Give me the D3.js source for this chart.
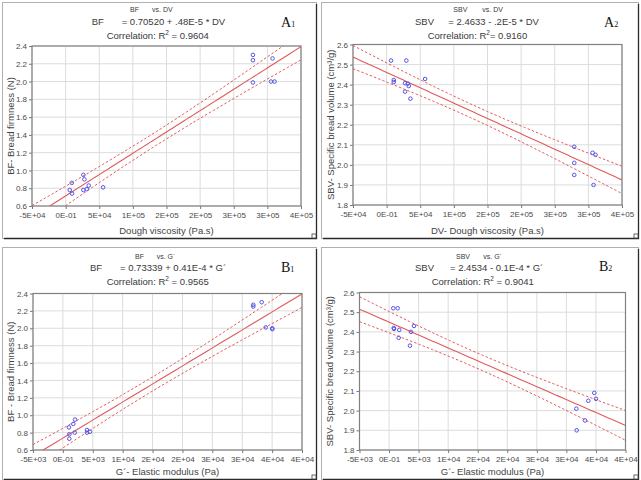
<!DOCTYPE html>
<html>
<head>
<meta charset="utf-8">
<script src="https://cdn.jsdelivr.net/npm/d3@7"></script>
<style>
body { margin: 0; background: #fff; }
svg { display: block; font-family: 'Liberation Sans', Arial, sans-serif; }
</style>
</head>
<body>
<script>
// data
var dv_ticks = [-50000, 0, 50000, 100000, 150000, 200000, 250000, 300000, 350000];
var dv_tick_labels = ['-5E+04', '0E-01', '5E+04', '1E+05', '2E+05', '2E+05', '3E+05', '3E+05', '4E+05'];
var g_ticks = [-5000, 0, 5000, 10000, 15000, 20000, 25000, 30000, 35000, 40000];
var g_tick_labels = ['-5E+03', '0E-01', '5E+03', '1E+04', '2E+04', '2E+04', '3E+04', '3E+04', '4E+04', '4E+04'];
var bf_ticks = [0.6, 0.8, 1.0, 1.2, 1.4, 1.6, 1.8, 2.0, 2.2, 2.4];
var sbv_ticks = [1.8, 1.9, 2.0, 2.1, 2.2, 2.3, 2.4, 2.5, 2.6];

// A1 - BF vs DV
var a1_dv = [26400, 27900, 9100, 6100, 9550, 26400, 31400, 34400, 55700, 278500, 278500, 307700, 278500, 305350, 310700];
var a1_bf = [0.95, 0.90, 0.86, 0.78, 0.74, 0.78, 0.79, 0.83, 0.81, 2.30, 2.24, 2.26, 1.99, 2.00, 2.00];

// A2 - SBV vs DV
var a2_dv = [6570, 29350, 10600, 10600, 57200, 27400, 31430, 32920, 27400, 35300, 279000, 306200, 310700, 279000, 279000, 307700];
var a2_sbv = [2.52, 2.52, 2.423, 2.413, 2.428, 2.407, 2.405, 2.393, 2.365, 2.33, 2.09, 2.06, 2.05, 2.01, 1.95, 1.90];

// B1 - BF vs G'
var b1_g = [31850, 31850, 33260, 33930, 35030, 35030, 2030, 1740, 1020, 1070, 1070, 1980, 4030, 4030, 4535];
var b1_bf = [2.27, 2.25, 2.30, 2.01, 2.00, 1.99, 0.95, 0.90, 0.86, 0.78, 0.73, 0.80, 0.83, 0.80, 0.81];

// B2 - SBV vs G'
var b2_g = [720, 1460, 790, 840, 1730, 4220, 3710, 1630, 3540, 34720, 33710, 35010, 31680, 33150, 31745];
var b2_sbv = [2.52, 2.52, 2.42, 2.415, 2.41, 2.43, 2.40, 2.37, 2.33, 2.09, 2.05, 2.06, 2.01, 1.95, 1.90];

var panels = [
	{
		id: 'a1', xs: a1_dv, ys: a1_bf,
		x_ticks: dv_ticks, x_labels: dv_tick_labels, y_ticks: bf_ticks, y_fmt: '.1f',
		frame: [2, 2, 314, 236], plot: [32, 46, 301, 206],
		t1: [['BF', 130], ['vs. DV', 152]], t1y: 12,
		t2: [['BF', 91.7], ['= 0.70520 + .48E-5 * DV', 121.7]], t2y: 25,
		t3: ['Correlation: R', ' = 0.9604', 106.7], t3y: 39,
		tag: ['A', '1', 281, 27],
		x_title: 'Dough viscosity (Pa.s)', x_title_y: 233.5,
		y_title: 'BF- Bread firmness (N)', y_title_x: 10,
	},
	{
		id: 'a2', xs: a2_dv, ys: a2_sbv,
		x_ticks: dv_ticks, x_labels: dv_tick_labels, y_ticks: sbv_ticks, y_fmt: '.1f',
		frame: [321, 2, 317, 236], plot: [353, 44.5, 622, 205],
		t1: [['SBV', 453.3], ['vs. DV', 482.3]], t1y: 12,
		t2: [['SBV', 415], ['= 2.4633 - .2E-5  * DV', 448.3]], t2y: 25,
		t3: ['Correlation: R', '= 0.9160', 427.7], t3y: 39,
		tag: ['A', '2', 604, 27],
		x_title: 'DV- Dough viscosity (Pa.s)', x_title_y: 233.5,
		y_title: 'SBV- Specific bread volume (cm³/g)', y_title_x: 330,
	},
	{
		id: 'b1', xs: b1_g, ys: b1_bf,
		x_ticks: g_ticks, x_labels: g_tick_labels, y_ticks: bf_ticks, y_fmt: '.1f',
		frame: [2, 247, 314, 232], plot: [33, 293.5, 302, 450],
		t1: [['BF', 135], ['vs. G´', 156.7]], t1y: 258.5,
		t2: [['BF', 90], ['= 0.73339 + 0.41E-4 * G´', 120]], t2y: 271,
		t3: ['Correlation: R', ' = 0.9565', 106.7], t3y: 284.5,
		tag: ['B', '1', 281, 272],
		x_title: 'G´- Elastic modulus (Pa)', x_title_y: 475,
		y_title: 'BF - Bread firmness (N)', y_title_x: 10,
	},
	{
		id: 'b2', xs: b2_g, ys: b2_sbv,
		x_ticks: g_ticks, x_labels: g_tick_labels, y_ticks: sbv_ticks, y_fmt: '.1f',
		frame: [321, 247, 317, 232], plot: [359.5, 292.5, 625.5, 450],
		t1: [['SBV', 456], ['vs. G´', 483.3]], t1y: 258.5,
		t2: [['SBV', 415], ['= 2.4534 - 0.1E-4  * G´', 450]], t2y: 271,
		t3: ['Correlation: R', ' = 0.9041', 431.7], t3y: 284.5,
		tag: ['B', '2', 599, 271],
		x_title: 'G´- Elastic modulus (Pa)', x_title_y: 475,
		y_title: 'SBV- Specific bread volume (cm³/g)', y_title_x: 329,
	},
];

var red = '#e25a5a';
var blue = '#5555e6';
var text_col = '#3a3a3a';

// two-sided 95% t quantile (Cornish-Fisher expansion)
function t975 (df) {
	var z = 1.959964;
	var z3 = z * z * z, z5 = z3 * z * z, z7 = z5 * z * z;
	return z + (z3 + z) / (4 * df) + (5 * z5 + 16 * z3 + 3 * z) / (96 * df * df) +
		(3 * z7 + 19 * z5 + 17 * z3 - 15 * z) / (384 * df * df * df);
}

// least squares fit with 95% confidence band on the mean
function fit (xs, ys) {
	var n = xs.length;
	var mx = d3.mean(xs), my = d3.mean(ys);
	var sxx = d3.sum(xs, function (x) { return (x - mx) * (x - mx); });
	var sxy = d3.sum(xs.map(function (x, i) { return (x - mx) * (ys[i] - my); }));
	var b = sxy / sxx, a = my - b * mx;
	var sse = d3.sum(xs.map(function (x, i) { var r = ys[i] - a - b * x; return r * r; }));
	var s = Math.sqrt(sse / (n - 2));
	var t = t975(n - 2);
	return {
		y: function (x) { return a + b * x; },
		half: function (x) { return t * s * Math.sqrt(1 / n + (x - mx) * (x - mx) / sxx); },
	};
}

var svg = d3.select('body')
	.append('svg')
	.attr('width', 641)
	.attr('height', 480);

svg.append('rect')
	.attr('width', 641).attr('height', 480)
	.attr('fill', '#fff');

var defs = svg.append('defs');

panels.forEach(function (p) {
	var left = p.plot[0], top = p.plot[1], right = p.plot[2], bottom = p.plot[3];
	var g = svg.append('g').attr('class', 'panel ' + p.id);

	// frame
	var fx = p.frame[0], fy = p.frame[1], fw = p.frame[2], fh = p.frame[3];
	g.append('rect')
		.attr('x', fx + 0.5).attr('y', fy + 0.5)
		.attr('width', fw).attr('height', fh)
		.attr('fill', 'none')
		.attr('stroke', '#b0b0b0');
	g.append('path')
		.attr('d', 'M' + (fx + fw + 0.5) + ',' + (fy + 2) + 'V' + (fy + fh + 0.5) + 'H' + (fx + 2))
		.attr('fill', 'none')
		.attr('stroke', '#2a2a2a')
		.attr('stroke-width', 1.3);
	g.append('rect')
		.attr('x', fx + fw - 4).attr('y', fy + fh - 4)
		.attr('width', 4).attr('height', 4)
		.attr('fill', '#fff')
		.attr('stroke', '#444')
		.attr('stroke-width', 0.8);

	var x = d3.scaleLinear()
		.domain(d3.extent(p.x_ticks))
		.range([left, right]);
	var y = d3.scaleLinear()
		.domain(d3.extent(p.y_ticks))
		.range([bottom, top]);

	defs.append('clipPath')
		.attr('id', 'clip-' + p.id)
		.append('rect')
		.attr('x', left).attr('y', top)
		.attr('width', right - left).attr('height', bottom - top);

	// grid
	g.append('g')
		.selectAll('line')
		.data(p.x_ticks)
		.enter()
		.append('line')
		.attr('x1', function (d) { return x(d); })
		.attr('x2', function (d) { return x(d); })
		.attr('y1', top).attr('y2', bottom)
		.attr('stroke', '#dcdcdc');
	g.append('g')
		.selectAll('line')
		.data(p.y_ticks)
		.enter()
		.append('line')
		.attr('y1', function (d) { return y(d); })
		.attr('y2', function (d) { return y(d); })
		.attr('x1', left).attr('x2', right)
		.attr('stroke', '#dcdcdc');

	// axes
	var x_axis = d3.axisBottom(x)
		.tickValues(p.x_ticks)
		.tickSize(3)
		.tickPadding(3)
		.tickFormat(function (d, i) { return p.x_labels[i]; });
	var y_axis = d3.axisLeft(y)
		.tickValues(p.y_ticks)
		.tickSize(3)
		.tickPadding(2)
		.tickFormat(d3.format(p.y_fmt));

	var gx = g.append('g')
		.attr('transform', 'translate(0,' + bottom + ')')
		.call(x_axis);
	var gy = g.append('g')
		.attr('transform', 'translate(' + left + ',0)')
		.call(y_axis);
	[gx, gy].forEach(function (ax) {
		ax.select('.domain').remove();
		ax.selectAll('line').attr('stroke', '#777');
		ax.selectAll('text')
			.attr('fill', '#4a4a4a')
			.style('font-size', '8px')
			.style('font-family', "'Liberation Sans', Arial, sans-serif");
	});

	// plot border
	g.append('rect')
		.attr('x', left).attr('y', top)
		.attr('width', right - left).attr('height', bottom - top)
		.attr('fill', 'none')
		.attr('stroke', '#808080')
		.attr('stroke-width', 1.2);

	// regression + confidence band
	var f = fit(p.xs, p.ys);
	var dom = x.domain();
	var xs_line = d3.range(81).map(function (i) { return dom[0] + i * (dom[1] - dom[0]) / 80; });
	var reg = g.append('g').attr('clip-path', 'url(#clip-' + p.id + ')');
	var line_mid = d3.line()
		.x(function (d) { return x(d); })
		.y(function (d) { return y(f.y(d)); });
	var line_hi = d3.line()
		.x(function (d) { return x(d); })
		.y(function (d) { return y(f.y(d) + f.half(d)); });
	var line_lo = d3.line()
		.x(function (d) { return x(d); })
		.y(function (d) { return y(f.y(d) - f.half(d)); });
	reg.append('path')
		.datum(xs_line)
		.attr('d', line_mid)
		.attr('fill', 'none')
		.attr('stroke', red)
		.attr('stroke-width', 1.1);
	[line_hi, line_lo].forEach(function (ln) {
		reg.append('path')
			.datum(xs_line)
			.attr('d', ln)
			.attr('fill', 'none')
			.attr('stroke', red)
			.attr('stroke-width', 1)
			.attr('stroke-dasharray', '2.5,2');
	});

	// points
	g.append('g')
		.selectAll('circle')
		.data(p.xs.map(function (d, i) { return [d, p.ys[i]]; }))
		.enter()
		.append('circle')
		.attr('cx', function (d) { return x(d[0]); })
		.attr('cy', function (d) { return y(d[1]); })
		.attr('r', 1.8)
		.attr('fill', 'none')
		.attr('stroke', blue)
		.attr('stroke-width', 1);

	// header text
	p.t1.forEach(function (t) {
		g.append('text')
			.attr('x', t[1]).attr('y', p.t1y)
			.attr('fill', text_col)
			.style('font-size', '7px')
			.text(t[0]);
	});
	p.t2.forEach(function (t) {
		g.append('text')
			.attr('x', t[1]).attr('y', p.t2y)
			.attr('fill', text_col)
			.style('font-size', '9.5px')
			.text(t[0]);
	});
	var t3 = g.append('text')
		.attr('x', p.t3[2]).attr('y', p.t3y)
		.attr('fill', text_col)
		.style('font-size', '9.5px');
	t3.append('tspan').text(p.t3[0]);
	t3.append('tspan').attr('dy', -4).style('font-size', '6.5px').text('2');
	t3.append('tspan').attr('dy', 4).text(p.t3[1]);

	var tag = g.append('text')
		.attr('x', p.tag[2]).attr('y', p.tag[3])
		.attr('fill', '#111')
		.style('font-family', "'Liberation Serif', 'Times New Roman', serif")
		.style('font-size', '14px');
	tag.append('tspan').text(p.tag[0]);
	tag.append('tspan').style('font-size', '8px').text(p.tag[1]);

	// axis titles
	g.append('text')
		.attr('x', (left + right) / 2).attr('y', p.x_title_y)
		.attr('text-anchor', 'middle')
		.attr('fill', '#444')
		.style('font-size', '9.5px')
		.text(p.x_title);
	g.append('text')
		.attr('transform', 'translate(' + (p.y_title_x + 3.5) + ',' + ((top + bottom) / 2) + ') rotate(-90)')
		.attr('text-anchor', 'middle')
		.attr('fill', '#444')
		.style('font-size', '9.5px')
		.text(p.y_title);
});
</script>
</body>
</html>
